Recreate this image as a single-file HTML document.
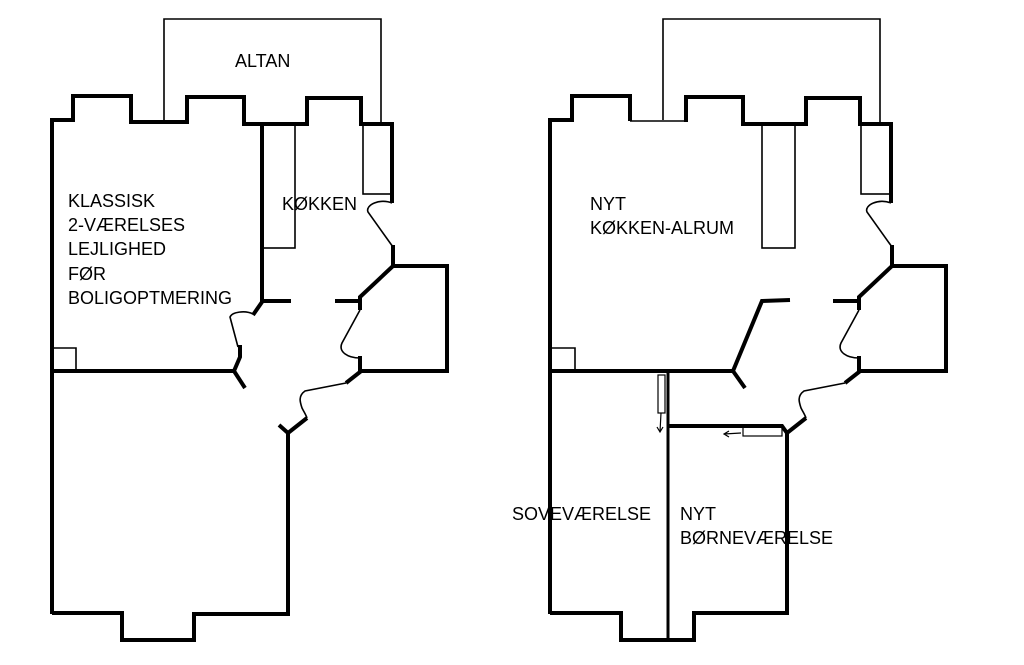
<!DOCTYPE html>
<html><head><meta charset="utf-8"><style>
html,body{margin:0;padding:0;background:#fff;width:1024px;height:665px;overflow:hidden}
svg{display:block}
text{font-family:"Liberation Sans",sans-serif;font-size:18px;fill:#000}
</style></head><body>
<svg width="1024" height="665" viewBox="0 0 1024 665" xmlns="http://www.w3.org/2000/svg">
<g fill="none" stroke="#000" stroke-linejoin="miter" stroke-linecap="butt">
<!-- LEFT PLAN -->
<g>
<polyline stroke-width="1.6" points="164,120 164,19 381,19 381,124"/>
<polyline stroke-width="4" points="52,614 52,120 73,120 73,96 131,96 131,122 187,122 187,97 244,97 244,124 307,124 307,98 361,98 361,124 392,124 392,203"/>
<path stroke-width="1.6" d="M392,203 C380,198 365,205 368,212 L393,247"/>
<polyline stroke-width="4" points="393,245 393,266 447,266 447,371 360,371"/>
<polyline stroke-width="4" points="393,266 360,297 360,310"/>
<path stroke-width="1.6" d="M360,310 L342,343 C338,352 348,358 360,358"/>
<polyline stroke-width="4" points="360,356 360,372 346,383"/>
<path stroke-width="1.6" d="M346,383 L305,391 C298,396 300,402 302,408 C304,412 306,415 307,418"/>
<polyline stroke-width="4" points="307,418 288,433 279,425"/>
<polyline stroke-width="4" points="288,433 288,614 194,614 194,640 122,640 122,613 52,613"/>
<polyline stroke-width="4" points="262,124 262,302 253,315"/>
<rect stroke-width="1.6" x="262" y="124" width="33" height="124"/>
<rect stroke-width="1.6" x="363" y="124" width="29" height="70"/>
<line stroke-width="4" x1="262" y1="301" x2="291" y2="301"/>
<line stroke-width="4" x1="335" y1="301" x2="360" y2="301"/>
<path stroke-width="1.6" d="M253,314 C245,310 232,312 230,317 L238,347"/>
<polyline stroke-width="4" points="240,345 240,357 234,371 245,388"/>
<line stroke-width="4" x1="52" y1="371" x2="234" y2="371"/>
<polyline stroke-width="1.6" points="52,348 76,348 76,371"/>
</g>
<!-- RIGHT PLAN -->
<g>
<polyline stroke-width="1.6" points="663,120 663,19 880,19 880,124"/>
<polyline stroke-width="4" points="550,614 550,120 572,120 572,96 630,96 630,121"/>
<line stroke-width="1.6" x1="630" y1="121" x2="686" y2="121"/>
<polyline stroke-width="4" points="686,122 686,97 743,97 743,124 806,124 806,98 860,98 860,124 891,124 891,203"/>
<path stroke-width="1.6" d="M891,203 C879,198 864,205 867,212 L892,247"/>
<polyline stroke-width="4" points="892,245 892,266 946,266 946,371 859,371"/>
<polyline stroke-width="4" points="892,266 859,297 859,310"/>
<path stroke-width="1.6" d="M859,310 L841,343 C837,352 847,358 859,358"/>
<polyline stroke-width="4" points="859,356 859,372 845,383"/>
<path stroke-width="1.6" d="M845,383 L804,391 C797,396 799,402 801,408 C803,412 805,415 806,418"/>
<polyline stroke-width="4" points="806,418 787,433 782,426 668,426"/>
<polyline stroke-width="4" points="787,433 787,613 694,613 694,640 621,640 621,613 550,613"/>
<rect stroke-width="1.6" x="762" y="124" width="33" height="124"/>
<rect stroke-width="1.6" x="861" y="124" width="29" height="70"/>
<polyline stroke-width="4" points="790,300 762,301 733,371 745,388"/>
<line stroke-width="4" x1="833" y1="301" x2="858" y2="301"/>
<line stroke-width="4" x1="550" y1="371" x2="733" y2="371"/>
<polyline stroke-width="1.6" points="550,348 575,348 575,371"/>
<line stroke-width="3" x1="668" y1="371" x2="668" y2="640"/>
<rect stroke-width="1.2" x="658" y="375" width="7" height="38"/>
<path stroke-width="1.2" d="M661,413 L660,432 M657,427 L660,432 L663,427"/>
<rect stroke-width="1.2" x="743" y="427" width="39" height="9"/>
<path stroke-width="1.2" d="M741,433 L724,434 M729,431 L724,434 L729,437"/>
</g>
</g>
<text x="235" y="67">ALTAN</text>
<text x="68" y="207">KLASSISK</text>
<text x="68" y="231">2-VÆRELSES</text>
<text x="68" y="255">LEJLIGHED</text>
<text x="68" y="280">FØR</text>
<text x="68" y="304">BOLIGOPTMERING</text>
<text x="282" y="210">KØKKEN</text>
<text x="590" y="210">NYT</text>
<text x="590" y="234">KØKKEN-ALRUM</text>
<text x="512" y="520">SOVEVÆRELSE</text>
<text x="680" y="520">NYT</text>
<text x="680" y="544">BØRNEVÆRELSE</text>
</svg>
</body></html>
